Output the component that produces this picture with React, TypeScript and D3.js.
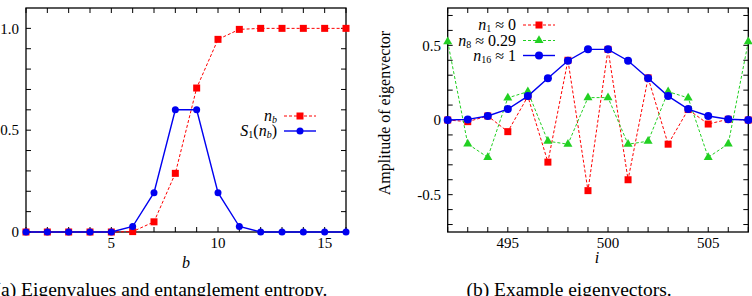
import * as d3 from 'd3'

// panel (a): occupation n_b and entropy S1 vs b
const bValues = [1, 2, 3, 4, 5, 6, 7, 8, 9, 10, 11, 12, 13, 14, 15, 16]
const nbValues = [0, 0, 0, 0, 0, 0.002, 0.05, 0.288, 0.707, 0.946, 0.995, 1, 1, 1, 1, 1]
const s1Values = [0, 0, 0, 0, 0, 0.027, 0.193, 0.6, 0.6, 0.193, 0.027, 0, 0, 0, 0, 0]
const aXTicks = [5, 10, 15]
const aYTicks = [0, 0.5, 1.0]
const aYTickLabels = ['0', '0.5', '1.0']

// panel (b): eigenvector amplitudes vs site i
const iValues = [492, 493, 494, 495, 496, 497, 498, 499, 500, 501, 502, 503, 504, 505, 506, 507]
const n1Values = [0, -0.011, 0.027, -0.078, 0.158, -0.282, 0.4, -0.473, 0.473, -0.4, 0.282, -0.162, 0.07, -0.027, 0.005, 0]
const n8Values = [0.524, -0.16, -0.25, 0.148, 0.19, -0.142, -0.162, 0.15, 0.15, -0.162, -0.142, 0.19, 0.148, -0.25, -0.16, 0.524]
const n16Values = [0, 0.004, 0.027, 0.073, 0.16, 0.28, 0.397, 0.473, 0.473, 0.397, 0.28, 0.16, 0.073, 0.027, 0.005, 0]
const bXTicks = [495, 500, 505]
const bYTicks = [-0.5, 0, 0.5]
const bYTickLabels = ['-0.5', '0', '0.5']

const RED = '#ff0000'
const GREEN = '#22d022'
const BLUE = '#0000f0'
const FONT = 'Liberation Serif'
const TICK = 5

function T(props) {
  return <text fontFamily={FONT} style={{ fontFamily: `'${FONT}'` }} {...props} />
}

function Frame({ x, y, xMinor, yMinor }) {
  const [x0, x1] = x.range()
  const [y0, y1] = y.range()
  return (
    <g stroke="#000" strokeWidth={1}>
      {xMinor.map((v) => (
        <g key={'x' + v}>
          <line x1={x(v)} x2={x(v)} y1={y0} y2={y0 - TICK} />
          <line x1={x(v)} x2={x(v)} y1={y1} y2={y1 + TICK} />
        </g>
      ))}
      {yMinor.map((v) => (
        <g key={'y' + v}>
          <line x1={x0} x2={x0 + TICK} y1={y(v)} y2={y(v)} />
          <line x1={x1} x2={x1 - TICK} y1={y(v)} y2={y(v)} />
        </g>
      ))}
      <rect x={x0} y={y1} width={x1 - x0} height={y0 - y1} fill="none" strokeWidth={1.3} />
    </g>
  )
}

function Series({ xs, ys, x, y, color, dash, width, marker, size }) {
  const pts = xs.map((v, k) => [x(v), y(ys[k])])
  const line = d3.line()
  return (
    <g>
      <path d={line(pts)} fill="none" stroke={color} strokeWidth={width} strokeDasharray={dash} />
      {pts.map(([px, py], k) => (
        <Marker key={k} cx={px} cy={py} color={color} marker={marker} size={size} />
      ))}
    </g>
  )
}

function Marker({ cx, cy, color, marker, size }) {
  if (marker === 'square') {
    return <rect x={cx - size / 2} y={cy - size / 2} width={size} height={size} fill={color} />
  }
  if (marker === 'triangle') {
    const s = d3.symbol(d3.symbolTriangle, size * size * 0.55)()
    return <path d={s} transform={`translate(${cx},${cy})`} fill={color} />
  }
  return <circle cx={cx} cy={cy} r={size / 2} fill={color} />
}

function LegendRow({ x, y, label, color, dash, width, marker, size }) {
  return (
    <g>
      <T x={x} y={y} dy="0.32em" textAnchor="end" fontSize={16}>{label}</T>
      <line x1={x + 7} x2={x + 39} y1={y} y2={y} stroke={color} strokeWidth={width} strokeDasharray={dash} />
      <Marker cx={x + 23} cy={y} color={color} marker={marker} size={size} />
    </g>
  )
}

function PanelA() {
  const x = d3.scaleLinear().domain([1, 16]).range([26, 346])
  const y = d3.scaleLinear().domain([0, 1.1]).range([232, 8])
  const xMinor = d3.range(1, 17)
  const yMinor = d3.range(0, 11).map((k) => k / 10)
  return (
    <g>
      <Frame x={x} y={y} xMinor={xMinor} yMinor={yMinor} />
      {aXTicks.map((v) => (
        <T key={v} x={x(v)} y={243} dy="0.35em" textAnchor="middle" fontSize={15}>{v}</T>
      ))}
      {aYTicks.map((v, k) => (
        <T key={v} x={19} y={y(v)} dy="0.35em" textAnchor="end" fontSize={15}>{aYTickLabels[k]}</T>
      ))}
      <T x={186} y={262} dy="0.35em" textAnchor="middle" fontSize={16} fontStyle="italic">b</T>
      <Series xs={bValues} ys={nbValues} x={x} y={y} color={RED} dash="3,2" width={1} marker="square" size={7} />
      <Series xs={bValues} ys={s1Values} x={x} y={y} color={BLUE} width={1.4} marker="circle" size={7} />
      <LegendRow
        x={277}
        y={116}
        color={RED}
        dash="3,2"
        width={1}
        marker="square"
        size={7}
        label={
          <>
            <tspan fontStyle="italic">n</tspan>
            <tspan fontStyle="italic" fontSize={10} dy={2}>b</tspan>
          </>
        }
      />
      <LegendRow
        x={277}
        y={131}
        color={BLUE}
        width={1.4}
        marker="circle"
        size={7}
        label={
          <>
            <tspan fontStyle="italic">S</tspan>
            <tspan fontSize={10} dy={2}>1</tspan>
            <tspan dy={-2}>(</tspan>
            <tspan fontStyle="italic">n</tspan>
            <tspan fontStyle="italic" fontSize={10} dy={2}>b</tspan>
            <tspan dy={-2}>)</tspan>
          </>
        }
      />
      <T x={161} y={296} textAnchor="middle" fontSize={19.5}>(a) Eigenvalues and entanglement entropy.</T>
    </g>
  )
}

function PanelB() {
  const x = d3.scaleLinear().domain([492, 507]).range([447.7, 748.3])
  const y = d3.scaleLinear().domain([-0.75, 0.75]).range([232, 8])
  const xMinor = d3.range(492, 508)
  const yMinor = d3.range(-7, 8).map((k) => k / 10)
  return (
    <g>
      <Frame x={x} y={y} xMinor={xMinor} yMinor={yMinor} />
      {bXTicks.map((v) => (
        <T key={v} x={x(v)} y={243} dy="0.35em" textAnchor="middle" fontSize={15}>{v}</T>
      ))}
      {bYTicks.map((v, k) => (
        <T key={v} x={441} y={y(v)} dy="0.35em" textAnchor="end" fontSize={15}>{bYTickLabels[k]}</T>
      ))}
      <T x={597} y={257} dy="0.35em" textAnchor="middle" fontSize={16} fontStyle="italic">i</T>
      <T
        transform="translate(384,113) rotate(-90)"
        dy="0.35em"
        textAnchor="middle"
        fontSize={16}
      >
        Amplitude of eigenvector
      </T>
      <Series xs={iValues} ys={n1Values} x={x} y={y} color={RED} dash="3,2" width={1} marker="square" size={7} />
      <Series xs={iValues} ys={n8Values} x={x} y={y} color={GREEN} dash="3,2" width={1} marker="triangle" size={8} />
      <Series xs={iValues} ys={n16Values} x={x} y={y} color={BLUE} width={1.4} marker="circle" size={8} />
      <LegendRow
        x={516}
        y={25}
        color={RED}
        dash="3,2"
        width={1}
        marker="square"
        size={7}
        label={
          <>
            <tspan fontStyle="italic">n</tspan>
            <tspan fontSize={10} dy={2}>1</tspan>
            <tspan dy={-2}> ≈ 0</tspan>
          </>
        }
      />
      <LegendRow
        x={516}
        y={40.5}
        color={GREEN}
        dash="3,2"
        width={1}
        marker="triangle"
        size={8}
        label={
          <>
            <tspan fontStyle="italic">n</tspan>
            <tspan fontSize={10} dy={2}>8</tspan>
            <tspan dy={-2}> ≈ 0.29</tspan>
          </>
        }
      />
      <LegendRow
        x={516}
        y={55.5}
        color={BLUE}
        width={1.4}
        marker="circle"
        size={8}
        label={
          <>
            <tspan fontStyle="italic">n</tspan>
            <tspan fontSize={10} dy={2}>16</tspan>
            <tspan dy={-2}> ≈ 1</tspan>
          </>
        }
      />
      <T x={569} y={296} textAnchor="middle" fontSize={19.5}>(b) Example eigenvectors.</T>
    </g>
  )
}

export default function App() {
  return (
    <div style={{ position: 'fixed', left: 0, top: 0 }}>
      <svg width={752} height={296} style={{ display: 'block', background: '#fff' }}>
        <PanelA />
        <PanelB />
      </svg>
    </div>
  )
}
